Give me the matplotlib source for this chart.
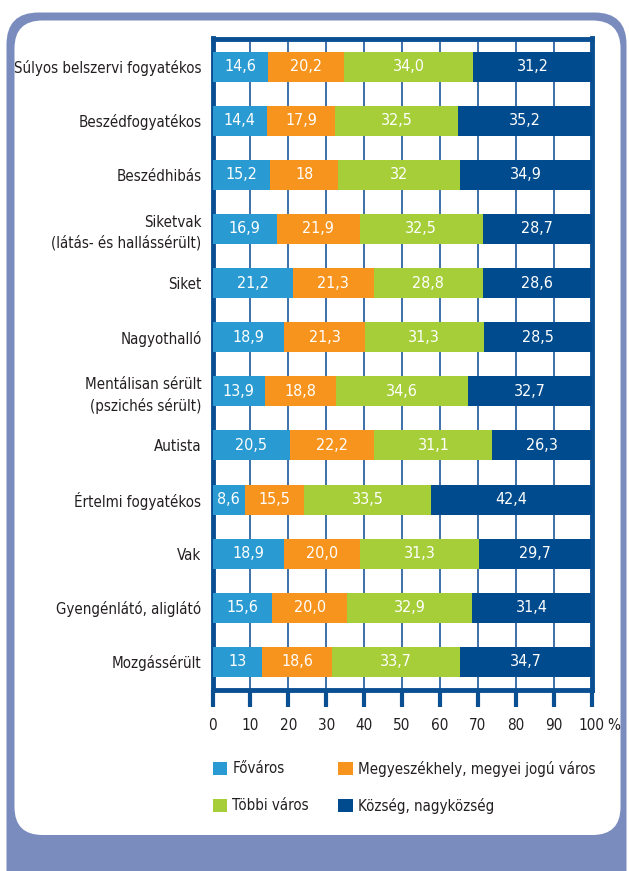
import matplotlib
matplotlib.use('Agg')
import matplotlib.pyplot as plt
from matplotlib.patches import FancyBboxPatch, Rectangle
from matplotlib.transforms import offset_copy

# condensed DejaVu to get close to the narrow face of the original
plt.rcParams['font.family'] = ['DejaVu Sans']
plt.rcParams['font.stretch'] = 'condensed'

categories = ['Súlyos belszervi fogyatékos', 'Beszédfogyatékos', 'Beszédhibás',
              'Siketvak\n(látás- és hallássérült)', 'Siket', 'Nagyothalló',
              'Mentálisan sérült\n(pszichés sérült)', 'Autista', 'Értelmi fogyatékos',
              'Vak', 'Gyengénlátó, aliglátó', 'Mozgássérült']

# values as printed on the chart
fovaros = ['14,6', '14,4', '15,2', '16,9', '21,2', '18,9', '13,9', '20,5', '8,6', '18,9', '15,6', '13']
megyeszekhely = ['20,2', '17,9', '18', '21,9', '21,3', '21,3', '18,8', '22,2', '15,5', '20,0', '20,0', '18,6']
tobbi_varos = ['34,0', '32,5', '32', '32,5', '28,8', '31,3', '34,6', '31,1', '33,5', '31,3', '32,9', '33,7']
kozseg = ['31,2', '35,2', '34,9', '28,7', '28,6', '28,5', '32,7', '26,3', '42,4', '29,7', '31,4', '34,7']

series_names = ['Főváros', 'Megyeszékhely, megyei jogú város', 'Többi város', 'Község, nagyközség']
colors = ['#2a9bd2', '#f7941d', '#a6ce39', '#004b8d']
xticks = [0, 10, 20, 30, 40, 50, 60, 70, 80, 90, 100]
xticklabels = ['0', '10', '20', '30', '40', '50', '60', '70', '80', '90', '100']

W, H = 629, 871
txtcol = '#231f20'
fig = plt.figure(figsize=(W / 100, H / 100), dpi=100)

# background frame, drawn in pixel coordinates
bg = fig.add_axes([0, 0, 1, 1], zorder=-5)
bg.set_xlim(0, W)
bg.set_ylim(H, 0)
bg.axis('off')
bg.add_patch(FancyBboxPatch((6.5, 12.5), 620, 900, boxstyle='round,pad=0,rounding_size=32',
                            fc='#7a8cbe', ec='none'))
bg.add_patch(FancyBboxPatch((14.5, 20.5), 606, 814.5, boxstyle='round,pad=0,rounding_size=28',
                            fc='white', ec='none'))

dark = '#0b4f93'
ax = fig.add_axes([212.5 / W, 1 - 690 / H, (591.7 - 212.5) / W, (690 - 38.5) / H])
ax.set_facecolor('none')

y = list(range(len(categories)))
left = [0.0] * len(categories)
for vals, col in zip([fovaros, megyeszekhely, tobbi_varos, kozseg], colors):
    nums = [float(v.replace(',', '.')) for v in vals]
    ax.barh(y, nums, left=left, height=0.555, color=col, zorder=3)
    for i, (n, txt) in enumerate(zip(nums, vals)):
        ax.text(left[i] + n / 2, i, txt, ha='center', va='center', color='white',
                fontsize=11.5, zorder=4)
    left = [l + n for l, n in zip(left, nums)]

ax.set_xlim(0, 100)
ax.set_ylim(11.52, -0.52)
ax.set_xticks(xticks)
ax.set_xticklabels(xticklabels, fontsize=11, color=txtcol)
ax.text(1.0, 0, '%', transform=offset_copy(ax.transAxes, fig=fig, x=16, y=-35, units='dots'),
        ha='left', va='center', fontsize=11, color=txtcol)
ax.set_yticks(y)
ax.set_yticklabels(categories, fontsize=10.8, color=txtcol, multialignment='right',
                   linespacing=1.4)
ax.tick_params(axis='y', length=0, pad=8)
ax.tick_params(axis='x', length=12, width=3, color=dark, direction='out', pad=8)
for x in xticks[1:-1]:
    ax.axvline(x, color='#2f64a3', lw=1.3, zorder=1)
for s in ax.spines.values():
    s.set_color(dark)
    s.set_linewidth(3.5)

# legend
leg_pos = [(212.5, 768), (338, 768), (212.5, 805), (338, 805)]
for (lx, ly), name, col in zip(leg_pos, series_names, colors):
    bg.add_patch(Rectangle((lx, ly - 6.5), 14.5, 13.5, fc=col, ec='none'))
    bg.text(lx + 20, ly + 0.5, name, ha='left', va='center', fontsize=10.8, color=txtcol)

fig.savefig('out.png', dpi=100)
